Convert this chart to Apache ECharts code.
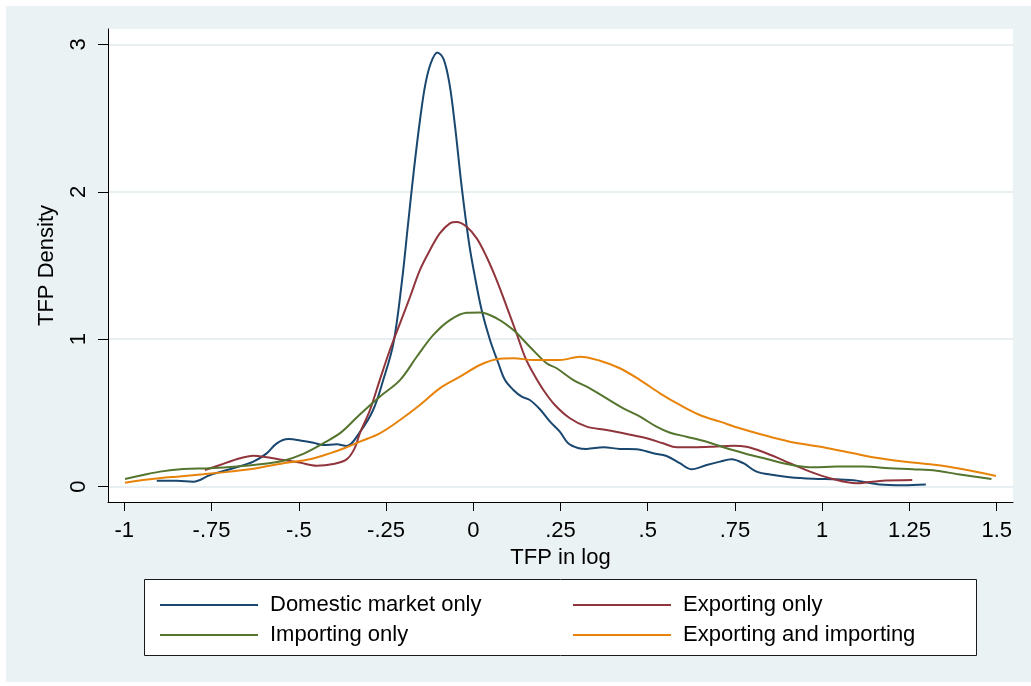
<!DOCTYPE html>
<html>
<head>
<meta charset="utf-8">
<script src="https://cdn.jsdelivr.net/npm/echarts@6/dist/echarts.min.js"></script>
<style>
html,body{margin:0;padding:0;background:#ffffff;}
#chart{width:1031px;height:686px;}
</style>
</head>
<body>
<div id="chart"></div>
<script>
// Tick labels
const xTicks = [-1, -0.75, -0.5, -0.25, 0, 0.25, 0.5, 0.75, 1, 1.25, 1.5];
const yTicks = [0, 1, 2, 3];

// Series names
const seriesNames = ["Domestic market only", "Exporting only", "Importing only", "Exporting and importing"];

// Kernel density curves: [TFP in log, density]
const domestic = [
  [-0.907,0.040],[-0.85,0.040],[-0.802,0.034],[-0.754,0.079],[-0.688,0.125],[-0.63,0.170],
  [-0.592,0.226],[-0.563,0.294],[-0.53,0.323],[-0.487,0.310],[-0.458,0.298],[-0.43,0.283],
  [-0.391,0.287],[-0.363,0.276],[-0.325,0.370],[-0.287,0.520],[-0.258,0.723],[-0.229,0.970],
  [-0.205,1.380],[-0.186,1.800],[-0.17,2.150],[-0.153,2.480],[-0.138,2.720],[-0.122,2.870],
  [-0.103,2.945],[-0.085,2.900],[-0.068,2.730],[-0.052,2.440],[-0.033,2.030],[-0.012,1.650],
  [0.005,1.420],[0.024,1.198],[0.048,0.995],[0.072,0.837],[0.091,0.723],[0.115,0.656],
  [0.139,0.610],[0.162,0.588],[0.191,0.525],[0.22,0.441],[0.248,0.373],[0.272,0.294],
  [0.3,0.262],[0.325,0.256],[0.373,0.267],[0.42,0.256],[0.468,0.254],[0.516,0.226],
  [0.554,0.208],[0.592,0.159],[0.626,0.118],[0.669,0.147],[0.707,0.170],[0.74,0.186],
  [0.774,0.159],[0.812,0.102],[0.86,0.079],[0.907,0.064],[0.974,0.054],[1.041,0.050],
  [1.099,0.041],[1.165,0.014],[1.232,0.009],[1.297,0.014]
];
const exporting = [
  [-0.769,0.113],[-0.726,0.147],[-0.678,0.186],[-0.63,0.210],[-0.592,0.199],[-0.544,0.181],
  [-0.497,0.163],[-0.449,0.142],[-0.401,0.154],[-0.363,0.185],[-0.34,0.260],[-0.325,0.362],
  [-0.296,0.520],[-0.268,0.723],[-0.239,0.927],[-0.21,1.108],[-0.181,1.288],[-0.153,1.469],
  [-0.124,1.605],[-0.096,1.718],[-0.067,1.786],[-0.048,1.795],[-0.019,1.763],[0.01,1.684],
  [0.038,1.559],[0.067,1.401],[0.096,1.220],[0.124,1.040],[0.148,0.881],[0.172,0.769],
  [0.201,0.656],[0.234,0.554],[0.277,0.464],[0.325,0.407],[0.382,0.384],[0.44,0.357],
  [0.497,0.328],[0.544,0.294],[0.583,0.267],[0.63,0.267],[0.688,0.271],[0.745,0.278],
  [0.783,0.271],[0.821,0.244],[0.86,0.208],[0.907,0.159],[0.965,0.102],[1.022,0.057],
  [1.099,0.023],[1.165,0.039],[1.258,0.045]
];
const importing = [
  [-0.998,0.052],[-0.946,0.079],[-0.898,0.102],[-0.831,0.120],[-0.754,0.125],[-0.678,0.136],
  [-0.611,0.152],[-0.544,0.176],[-0.487,0.222],[-0.43,0.294],[-0.378,0.370],[-0.325,0.490],
  [-0.268,0.610],[-0.21,0.723],[-0.162,0.881],[-0.115,1.028],[-0.067,1.130],[-0.019,1.180],
  [0.019,1.182],[0.067,1.142],[0.115,1.062],[0.162,0.949],[0.21,0.837],[0.239,0.803],
  [0.287,0.723],[0.334,0.667],[0.382,0.599],[0.43,0.531],[0.478,0.475],[0.525,0.407],
  [0.564,0.366],[0.611,0.339],[0.669,0.305],[0.726,0.260],[0.783,0.222],[0.841,0.188],
  [0.907,0.150],[0.974,0.131],[1.041,0.136],[1.117,0.136],[1.193,0.125],[1.26,0.118],
  [1.328,0.108],[1.385,0.086],[1.485,0.052]
];
const expImp = [
  [-0.998,0.027],[-0.926,0.050],[-0.85,0.068],[-0.774,0.084],[-0.697,0.102],[-0.621,0.125],
  [-0.544,0.159],[-0.468,0.186],[-0.411,0.226],[-0.368,0.262],[-0.325,0.305],[-0.268,0.362],
  [-0.21,0.452],[-0.153,0.554],[-0.096,0.667],[-0.038,0.746],[0.019,0.825],[0.067,0.864],
  [0.115,0.871],[0.172,0.859],[0.248,0.859],[0.306,0.881],[0.363,0.854],[0.42,0.803],
  [0.478,0.723],[0.535,0.633],[0.592,0.554],[0.649,0.486],[0.707,0.441],[0.764,0.396],
  [0.821,0.357],[0.907,0.305],[1.003,0.267],[1.089,0.226],[1.165,0.192],[1.251,0.165],
  [1.328,0.147],[1.404,0.118],[1.498,0.073]
];

const colors = ["#1a476f", "#90353b", "#55752f", "#e8830a"];
const FONT = "Liberation Sans, Arial, sans-serif";
const FS = 22;

function stataFmt(v) {
  if (v === 0) return "0";
  const s = String(Math.abs(v)).replace(/^0\./, ".");
  return (v < 0 ? "-" : "") + s;
}

const chart = echarts.init(document.getElementById("chart"), null, {renderer: "canvas"});

function mkSeries(name, data, color) {
  return {
    name: name, type: "line", data: data, symbol: "none", showSymbol: false, smooth: 0.35,
    lineStyle: {color: color, width: 2}, itemStyle: {color: color},
    emphasis: {disabled: true}, silent: true, z: 3
  };
}

function mkLegend(names, left) {
  return {
    data: names, orient: "vertical", left: left, top: 589, z: 20,
    icon: "rect", itemWidth: 98, itemHeight: 2, itemGap: 8, selectedMode: false,
    textStyle: {fontSize: FS, lineHeight: 22, color: "#000", padding: [0, 0, 0, 7], fontFamily: FONT}
  };
}

const option = {
  animation: false,
  backgroundColor: "#ffffff",
  textStyle: {fontFamily: FONT},
  graphic: [
    {type: "rect", z: -10, shape: {x: 6, y: 6, width: 1025, height: 676}, style: {fill: "#eaf2f3"}, silent: true},
    {type: "rect", z: -5, shape: {x: 144.5, y: 579.5, width: 832, height: 76}, style: {fill: "#ffffff", stroke: "#1a1a1a", lineWidth: 1}, silent: true}
  ],
  grid: {left: 108, right: 18, top: 29, bottom: 184, show: true, backgroundColor: "#ffffff", borderWidth: 0},
  xAxis: {
    type: "value", min: -1.0467, max: 1.5467,
    name: "TFP in log", nameLocation: "middle", nameGap: 38,
    nameTextStyle: {fontSize: FS, color: "#000", fontFamily: FONT},
    axisLine: {show: true, onZero: false, lineStyle: {color: "#000", width: 1}},
    axisTick: {show: true, length: 9, customValues: xTicks, lineStyle: {color: "#000"}},
    axisLabel: {customValues: xTicks, formatter: stataFmt, fontSize: FS, color: "#000", margin: 18, fontFamily: FONT},
    splitLine: {show: false}
  },
  yAxis: {
    type: "value", min: -0.104, max: 3.104,
    name: "TFP Density", nameLocation: "middle", nameGap: 50,
    nameTextStyle: {fontSize: FS, color: "#000", fontFamily: FONT},
    axisLine: {show: true, onZero: false, lineStyle: {color: "#000", width: 1}},
    axisTick: {show: true, length: 10, customValues: yTicks, lineStyle: {color: "#000"}},
    axisLabel: {customValues: yTicks, rotate: 90, fontSize: FS, color: "#000", margin: 18, fontFamily: FONT},
    splitLine: {show: true, lineStyle: {color: "#e8eff2", width: 2}}
  },
  legend: [
    mkLegend([seriesNames[0], seriesNames[2]], 155),
    mkLegend([seriesNames[1], seriesNames[3]], 568)
  ],
  series: [
    mkSeries(seriesNames[0], domestic, colors[0]),
    mkSeries(seriesNames[1], exporting, colors[1]),
    mkSeries(seriesNames[2], importing, colors[2]),
    mkSeries(seriesNames[3], expImp, colors[3])
  ]
};
chart.setOption(option);
</script>
</body>
</html>
